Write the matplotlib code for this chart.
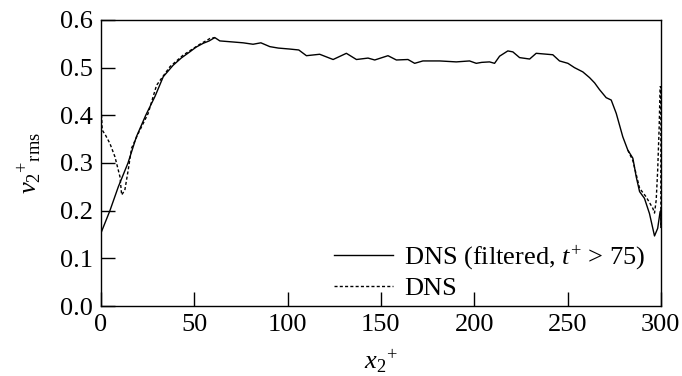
import matplotlib
matplotlib.use("Agg")
import matplotlib.pyplot as plt
import numpy as np

plt.rcParams['font.family'] = ['Liberation Serif', 'DejaVu Serif']
plt.rcParams['mathtext.fontset'] = 'custom'
plt.rcParams['mathtext.rm'] = 'Liberation Serif'
plt.rcParams['mathtext.it'] = 'Liberation Serif:italic'

# Filtered DNS (solid)
filt_x = [0, 4.8, 9.3, 14.5, 19, 24, 29, 33.4, 38.7, 43, 47.6, 51, 54.8, 58, 61, 63.7,
          70, 76.2, 81.5, 85.7, 90.5, 95, 101, 106, 110.1, 117.2, 124.4, 131.5, 136.9,
          143.1, 146.7, 153.8, 158.3, 164.5, 168.1, 172.5, 181.5, 190.4, 197.5, 201.1,
          204, 208.2, 210.9, 213.6, 218, 220.7, 224.3, 229.7, 233.2, 242.1, 245.7, 250.2,
          253.7, 258.2, 261.8, 264.5, 267.1, 270.7, 273.4, 276.1, 279.6, 282.3, 285,
          286.8, 288.6, 291.2, 293.9, 296.6, 298.3, 299.6, 300, 300]
filt_y = [0.153, 0.2, 0.25, 0.30, 0.355, 0.40, 0.44, 0.481, 0.505, 0.52, 0.533, 0.543,
          0.551, 0.556, 0.563, 0.556, 0.554, 0.552, 0.549, 0.552, 0.544, 0.541, 0.539,
          0.537, 0.525, 0.528, 0.517, 0.530, 0.517, 0.520, 0.516, 0.525, 0.516, 0.517,
          0.509, 0.514, 0.514, 0.512, 0.514, 0.509, 0.511, 0.512, 0.509, 0.524, 0.535,
          0.533, 0.521, 0.518, 0.530, 0.527, 0.514, 0.509, 0.500, 0.491, 0.479, 0.468,
          0.454, 0.437, 0.432, 0.404, 0.355, 0.327, 0.310, 0.271, 0.240, 0.226, 0.194,
          0.147, 0.163, 0.198, 0.2, 0.165]

# DNS (dashed) - near-wall parts where it differs from the filtered curve
dns_left_x = [0, 0, 0.7, 2.5, 4.8, 7.5, 10.2, 11.1, 12.8, 14.6, 16.4, 20, 25.3, 29.8,
              37, 44, 53, 58.4, 61]
dns_left_y = [0.15, 0.425, 0.369, 0.358, 0.341, 0.313, 0.271, 0.233, 0.243, 0.285,
              0.331, 0.362, 0.404, 0.463, 0.502, 0.526, 0.549, 0.561, 0.563]
dns_right_x = [282.3, 285, 288.6, 292.1, 295.7, 296.6, 297.5, 298.3, 299.1, 299.6, 300, 300]
dns_right_y = [0.327, 0.305, 0.247, 0.229, 0.205, 0.195, 0.222, 0.285, 0.376, 0.46, 0.46, 0.17]

xticks = [0, 50, 100, 150, 200, 250, 300]
yticks = [0.0, 0.1, 0.2, 0.3, 0.4, 0.5, 0.6]

FS = 19

fig = plt.figure(figsize=(6.82, 3.76), dpi=100)
ax = fig.add_axes([0.148, 0.186, 0.821, 0.761])

ax.plot(filt_x, filt_y, color='black', lw=1.0, label=r'DNS (filtered, $t^{+}$ > 75)')
ax.plot(dns_left_x, dns_left_y, color='black', lw=1.0, ls=(0, (2.2, 1.6)), label='DNS')
ax.plot(dns_right_x, dns_right_y, color='black', lw=1.0, ls=(0, (2.2, 1.6)))

ax.set_xlim(0, 300)
ax.set_ylim(0, 0.6)
ax.set_xticks(xticks)
ax.set_yticks(yticks)
ax.set_yticklabels([f'{v:.1f}' for v in yticks])
ax.tick_params(direction='in', length=10, width=1, labelsize=FS, top=False, right=False)
ax.tick_params(axis='x', pad=6)
ax.tick_params(axis='y', pad=6)
for s in ax.spines.values():
    s.set_linewidth(1)

ax.set_xlabel(r'$x_2{}^{+}$', fontsize=FS, labelpad=8)
ax.set_ylabel(r'$v_2{}^{+}{}_{\rm rms}$', fontsize=FS, labelpad=12)

leg = ax.legend(loc='lower right', bbox_to_anchor=(1.006, -0.045), frameon=False,
                fontsize=FS, handlelength=2.24, handletextpad=0.42, labelspacing=0.19,
                borderpad=0.2)

fig.savefig('out.png', dpi=100)
